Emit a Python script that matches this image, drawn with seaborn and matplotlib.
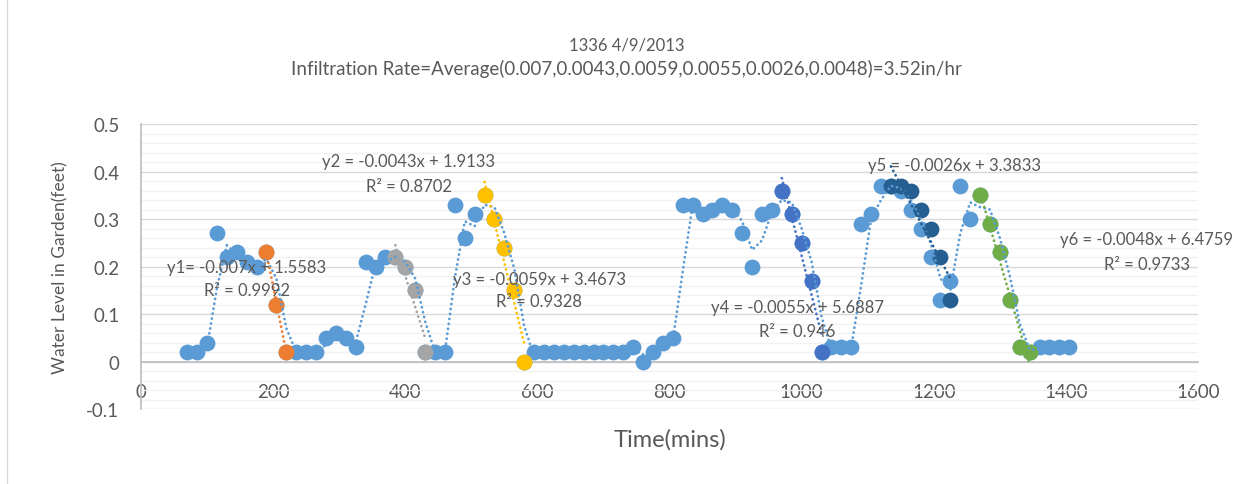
import numpy as np
import pandas as pd
import matplotlib
matplotlib.use("Agg")
import matplotlib.pyplot as plt
import seaborn as sns

# water level readings, sampled every 15 minutes
time_min = [70, 85, 100, 115, 130, 145, 160, 175, 190, 205, 220, 235, 250, 265, 280,
            295, 310, 325, 340, 355, 370, 385, 400, 415, 430, 445, 460, 475, 490, 505,
            520, 535, 550, 565, 580, 595, 610, 625, 640, 655, 670, 685, 700, 715, 730,
            745, 760, 775, 790, 805, 820, 835, 850, 865, 880, 895, 910, 925, 940, 955,
            970, 985, 1000, 1015, 1030, 1045, 1060, 1075, 1090, 1105, 1120, 1135, 1150, 1165, 1180,
            1195, 1210, 1225, 1240, 1255, 1270, 1285, 1300, 1315, 1330, 1345, 1360, 1375, 1390, 1405]
water_ft = [0.02, 0.02, 0.04, 0.27, 0.22, 0.23, 0.21, 0.20, 0.23, 0.12, 0.02, 0.02, 0.02, 0.02, 0.05,
            0.06, 0.05, 0.03, 0.21, 0.20, 0.22, 0.22, 0.20, 0.15, 0.02, 0.02, 0.02, 0.33, 0.26, 0.31,
            0.35, 0.30, 0.24, 0.15, 0.00, 0.02, 0.02, 0.02, 0.02, 0.02, 0.02, 0.02, 0.02, 0.02, 0.02,
            0.03, 0.00, 0.02, 0.04, 0.05, 0.33, 0.33, 0.31, 0.32, 0.33, 0.32, 0.27, 0.20, 0.31, 0.32,
            0.36, 0.31, 0.25, 0.17, 0.02, 0.03, 0.03, 0.03, 0.29, 0.31, 0.37, 0.37, 0.36, 0.32, 0.28,
            0.22, 0.13, 0.17, 0.37, 0.30, 0.35, 0.29, 0.23, 0.13, 0.03, 0.02, 0.03, 0.03, 0.03, 0.03]

# drawdown segments used for the infiltration fits
drop1_t = [190, 205, 220]
drop1_y = [0.23, 0.12, 0.02]
drop2_t = [385, 400, 415, 430]
drop2_y = [0.22, 0.20, 0.15, 0.02]
drop3_t = [520, 535, 550, 565, 580]
drop3_y = [0.35, 0.30, 0.24, 0.15, 0.00]
drop4_t = [970, 985, 1000, 1015, 1030]
drop4_y = [0.36, 0.31, 0.25, 0.17, 0.02]
drop5_t = [1135, 1150, 1165, 1180, 1195, 1210, 1225]
drop5_y = [0.37, 0.37, 0.36, 0.32, 0.28, 0.22, 0.13]
drop6_t = [1270, 1285, 1300, 1315, 1330, 1345]
drop6_y = [0.35, 0.29, 0.23, 0.13, 0.03, 0.02]

fit_labels = ["y1= -0.007x + 1.5583", "y2 = -0.0043x + 1.9133", "y3 = -0.0059x + 3.4673",
              "y4 = -0.0055x + 5.6887", "y5 = -0.0026x + 3.3833", "y6 = -0.0048x + 6.4759"]
r2_labels = ["R² = 0.9992", "R² = 0.8702", "R² = 0.9328", "R² = 0.946", None, "R² = 0.9733"]

x_ticks = [0, 200, 400, 600, 800, 1000, 1200, 1400, 1600]
y_ticks = [-0.1, 0, 0.1, 0.2, 0.3, 0.4, 0.5]
y_tick_labels = ["-0.1", "0", "0.1", "0.2", "0.3", "0.4", "0.5"]

sns.set_theme(style="white")
plt.rcParams["font.family"] = ["Lato", "DejaVu Sans"]
txt = "#595959"

fig = plt.figure(figsize=(12.53, 4.85), dpi=100)
ax = fig.add_axes([0.1125, 0.1546, 0.8437, 0.5876])

df = pd.DataFrame({"t": time_min, "y": water_ft})
df["ma"] = df["y"].rolling(2).mean()

blue = "#5B9BD5"
seg_colors = ["#ED7D31", "#A5A5A5", "#FFC000", "#4472C4", "#255E91", "#70AD47"]
segs = [(drop1_t, drop1_y), (drop2_t, drop2_y), (drop3_t, drop3_y),
        (drop4_t, drop4_y), (drop5_t, drop5_y), (drop6_t, drop6_y)]

msize = 130
dots = (0, (0.05, 1.75))
sns.scatterplot(data=df, x="t", y="y", color=blue, s=msize, linewidth=0, ax=ax, zorder=3)
for (t, y), c in zip(segs, seg_colors):
    sns.scatterplot(x=t, y=y, color=c, s=msize, linewidth=0, ax=ax, zorder=4)

# 2-period moving average on the full record
sns.lineplot(data=df.dropna(), x="t", y="ma", color=blue, lw=2, ax=ax, zorder=5,
             linestyle=dots, dash_capstyle="round")
# linear fits on each drawdown
for (t, y), c in zip(segs, seg_colors):
    sns.regplot(x=np.array(t), y=np.array(y), scatter=False, ci=None, ax=ax,
                line_kws=dict(color=c, lw=2, linestyle=dots,
                              dash_capstyle="round", zorder=6))

# equation labels
eq_pos = [(160, 0.200, 0.151), (405, 0.422, 0.369), (603, 0.174, 0.128),
          (993, 0.115, 0.065), (1232, 0.413, None), (1522, 0.259, 0.206)]
for (x, ye, yr), eq, r2 in zip(eq_pos, fit_labels, r2_labels):
    ax.text(x, ye, eq, ha="center", va="center", fontsize=12, color=txt, zorder=7)
    if r2 is not None:
        ax.text(x, yr, r2, ha="center", va="center", fontsize=12, color=txt, zorder=7)

ax.set_xlim(0, 1600)
ax.set_ylim(-0.1, 0.5)
ax.set_xticks(x_ticks)
ax.set_xticklabels([str(v) for v in x_ticks])
ax.set_yticks(y_ticks)
ax.set_yticklabels(y_tick_labels)
ax.set_yticks(np.round(np.arange(-0.1, 0.5, 0.02), 2), minor=True)

ax.grid(axis="y", which="major", color="#D9D9D9", lw=1)
ax.grid(axis="y", which="minor", color="#F2F2F2", lw=1)
ax.grid(axis="x", visible=False)
ax.set_axisbelow(True)

for s in ["top", "right"]:
    ax.spines[s].set_visible(False)
ax.spines["bottom"].set_position(("data", 0))
ax.spines["bottom"].set_color("#BFBFBF")
ax.spines["left"].set_color("#BFBFBF")
ax.tick_params(axis="both", which="major", direction="out", length=4.5, width=1,
               color="#BFBFBF", labelcolor=txt, labelsize=13.5)
ax.tick_params(axis="x", pad=11)
ax.tick_params(axis="y", pad=11)
ax.tick_params(axis="y", which="minor", length=0)

ax.set_xlabel("Time(mins)", fontsize=17, color=txt)
ax.xaxis.set_label_coords(0.5, -0.105)
ax.xaxis.label.set_va("center")
ax.set_ylabel("Water Level in Garden(feet)", fontsize=12.5, color=txt)
ax.yaxis.set_label_coords(-0.0766, 0.5)
ax.yaxis.label.set_va("center")

fig.text(0.5, 0.907, "1336 4/9/2013", ha="center", va="center", fontsize=12, color=txt)
fig.text(0.5, 0.858,
         "Infiltration Rate=Average(0.007,0.0043,0.0059,0.0055,0.0026,0.0048)=3.52in/hr",
         ha="center", va="center", fontsize=13.5, color=txt)

fig.add_artist(plt.Line2D([7 / 1253, 7 / 1253], [0, 1], color="#D9D9D9", lw=1))

fig.savefig("out.png", dpi=100)
